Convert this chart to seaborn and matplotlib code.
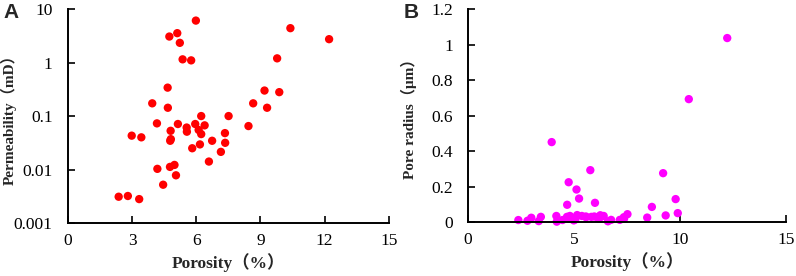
import numpy as np
import pandas as pd
import matplotlib
matplotlib.use("Agg")
import matplotlib.pyplot as plt
import seaborn as sns
from matplotlib.ticker import FixedLocator, FuncFormatter, NullLocator

# data
porosity = [5.98, 4.74, 5.11, 5.23, 5.36, 5.76, 10.4, 12.21, 9.78, 9.19,
            9.88, 8.66, 9.31, 8.44, 7.51, 7.34, 7.35, 7.15, 6.74, 6.59,
            6.23, 6.39, 5.95, 6.11, 6.23, 6.17, 5.81, 5.55, 5.56, 5.14,
            4.80, 4.81, 4.78, 4.67, 4.66, 3.94, 4.16, 2.98, 3.43, 4.18,
            4.77, 4.98, 5.05, 4.45, 2.37, 2.80, 3.33]
permeability = [6.1, 3.07, 3.55, 2.34, 1.15, 1.1, 4.4, 2.74, 1.2, 0.30,
                0.28, 0.173, 0.143, 0.065, 0.1, 0.048, 0.0316, 0.0214, 0.0345, 0.0141,
                0.1, 0.067, 0.071, 0.055, 0.046, 0.0295, 0.025, 0.061, 0.051, 0.071,
                0.053, 0.037, 0.0345, 0.143, 0.34, 0.173, 0.073, 0.043, 0.040, 0.0103,
                0.0112, 0.0122, 0.0078, 0.0052, 0.0031, 0.0032, 0.0028]
pore_radius = [0.109, 0.225, 0.184, 0.133, 0.035, 0.293, 0.693, 1.037, 0.130, 0.276,
               0.051, 0.086, 0.038, 0.026, 0.045, 0.028, 0.020, 0.013, 0.013, 0.005,
               0.039, 0.035, 0.032, 0.025, 0.030, 0.020, 0.030, 0.032, 0.028, 0.040,
               0.035, 0.030, 0.020, 0.098, 0.030, 0.451, 0.035, 0.025, 0.030, 0.003,
               0.020, 0.010, 0.015, 0.012, 0.012, 0.008, 0.006]

df = pd.DataFrame({"porosity": porosity, "perm": permeability, "radius": pore_radius})

sns.set_style("ticks")
plt.rcParams['font.family'] = ['Liberation Serif', 'Noto Sans CJK SC']
fams = ['Liberation Serif', 'Noto Sans CJK SC']
xlab_font = dict(family=fams, fontweight='bold', fontsize=12.5)
ylab_font = dict(family=fams, fontweight='bold', fontsize=11)

fig = plt.figure(figsize=(7.96, 2.76), dpi=100)
ax1 = fig.add_axes([0.0854, 0.192, 0.403, 0.775])
ax2 = fig.add_axes([0.588, 0.195, 0.400, 0.772])

# Panel A
sns.scatterplot(data=df, x="porosity", y="perm", ax=ax1, color="#ff0000",
                s=36, edgecolor="none", linewidth=0)
ax1.set_yscale("log")
ax1.set_xlim(0, 15)
ax1.set_ylim(0.001, 10)
ax1.xaxis.set_major_locator(FixedLocator([0, 3, 6, 9, 12, 15]))
ax1.yaxis.set_major_locator(FixedLocator([0.001, 0.01, 0.1, 1, 10]))
ax1.yaxis.set_minor_locator(NullLocator())
ax1.yaxis.set_major_formatter(FuncFormatter(lambda v, p: "%g" % v))
ax1.set_xlabel("Porosity（%）", **xlab_font)
ax1.set_ylabel("Permeability（mD）", **ylab_font)
ax1.yaxis.set_label_coords(-0.16, 0.5)

# Panel B
sns.scatterplot(data=df, x="porosity", y="radius", ax=ax2, color="#ff00ff",
                s=36, edgecolor="none", linewidth=0)
ax2.set_xlim(0, 15)
ax2.set_ylim(0, 1.2)
ax2.xaxis.set_major_locator(FixedLocator([0, 5, 10, 15]))
ax2.yaxis.set_major_locator(FixedLocator([0, 0.2, 0.4, 0.6, 0.8, 1.0, 1.2]))
ax2.yaxis.set_major_formatter(FuncFormatter(lambda v, p: "%g" % round(v, 1)))
ax2.set_xlabel("Porosity（%）", **xlab_font)
ax2.set_ylabel("Pore radius（μm）", **ylab_font)
ax2.yaxis.set_label_coords(-0.16, 0.5)

for ax in (ax1, ax2):
    for s in ["top", "right"]:
        ax.spines[s].set_visible(False)
    for s in ["left", "bottom"]:
        ax.spines[s].set_color("black")
        ax.spines[s].set_linewidth(1.4)
    ax.tick_params(axis="both", direction="in", length=5, width=1.2,
                   labelsize=12.5, colors="black")
    ax.tick_params(axis="y", pad=11)
    ax.tick_params(axis="x", pad=7)
    ax.xaxis.labelpad = 3
    for c in ax.collections:
        c.set_clip_on(False)

fig.text(0.004, 0.99, "A", family="Liberation Sans", fontweight="bold", fontsize=15, va="top")
fig.text(0.507, 0.99, "B", family="Liberation Sans", fontweight="bold", fontsize=15, va="top")

fig.savefig("out.png", dpi=100)
